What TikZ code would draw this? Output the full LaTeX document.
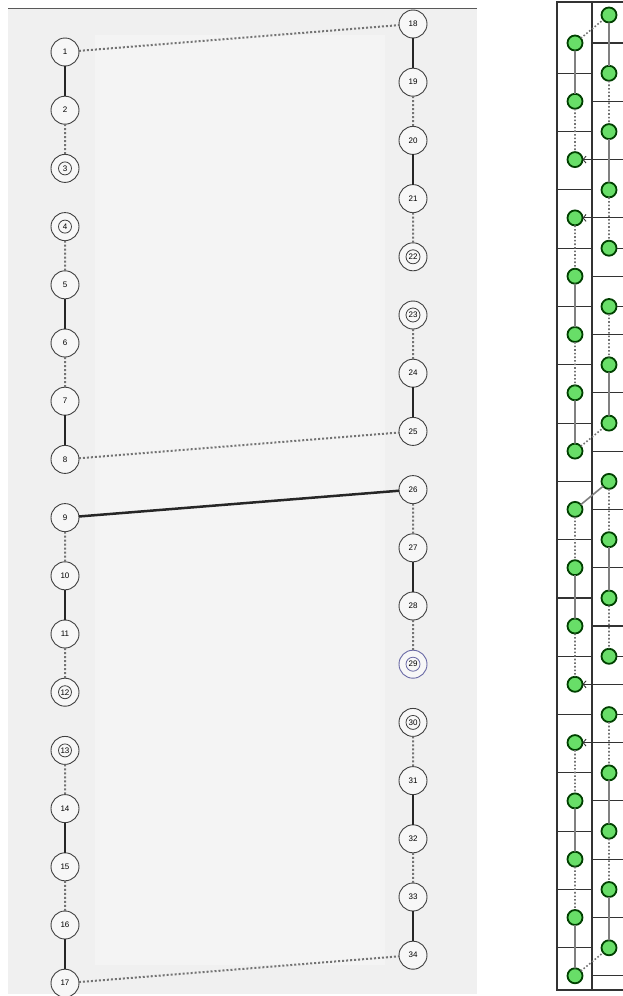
\documentclass[tikz,border=0pt]{standalone}
\usepackage{fontspec}
\setsansfont{Liberation Sans}
\usetikzlibrary{positioning,arrows.meta}

\begin{document}
\begin{tikzpicture}[
	x=1pt, y=-1pt,
	node distance=30.2pt,
	num/.style={circle, draw=black!75, fill=black!3, line width=0.9pt,
		minimum size=28pt, inner sep=0pt, outer sep=0pt, font=\sffamily\fontsize{8}{9}\selectfont},
	ring/.style={draw=black!75, line width=0.8pt},
	link/.style={draw=black!85, line width=2.2pt},
	weak/.style={draw=black!55, line width=2pt, dash pattern=on 2pt off 2pt},
	gnode/.style={circle, draw=black!75!green, fill={rgb,255:red,104;green,222;blue,104},
		line width=1.8pt, minimum size=15pt, inner sep=0pt, outer sep=0pt},
	gline/.style={draw=black!50, line width=1.6pt},
	gdot/.style={draw=black!55, line width=1.6pt, dash pattern=on 1.6pt off 2pt},
	cell/.style={draw=black!80, line width=1.1pt},
	bar/.style={draw=black!80, line width=0.9pt, -{Straight Barb[length=3pt, width=7pt]}}
	]
	\useasboundingbox (0,0) rectangle (622,996);
	% backdrop of the left view
	\fill[black!6] (8,8) rectangle (477,994);
	\fill[black!4.5] (95,35) rectangle (385,965);
	\draw[black!65, line width=1pt] (8,8) -- (477,8);

	% left view
	\node[num] (n1) at (65,52) {1};
	\node[num, below=of n1] (n2) {2};
	\node[num, below=of n2] (n3) {3};
	\node[num, below=of n3] (n4) {4};
	\node[num, below=of n4] (n5) {5};
	\node[num, below=of n5] (n6) {6};
	\node[num, below=of n6] (n7) {7};
	\node[num, below=of n7] (n8) {8};
	\node[num, below=of n8] (n9) {9};
	\node[num, below=of n9] (n10) {10};
	\node[num, below=of n10] (n11) {11};
	\node[num, below=of n11] (n12) {12};
	\node[num, below=of n12] (n13) {13};
	\node[num, below=of n13] (n14) {14};
	\node[num, below=of n14] (n15) {15};
	\node[num, below=of n15] (n16) {16};
	\node[num, below=of n16] (n17) {17};
	\node[num] (n18) at (413,24) {18};
	\node[num, below=of n18] (n19) {19};
	\node[num, below=of n19] (n20) {20};
	\node[num, below=of n20] (n21) {21};
	\node[num, below=of n21] (n22) {22};
	\node[num, below=of n22] (n23) {23};
	\node[num, below=of n23] (n24) {24};
	\node[num, below=of n24] (n25) {25};
	\node[num, below=of n25] (n26) {26};
	\node[num, below=of n26] (n27) {27};
	\node[num, below=of n27] (n28) {28};
	\node[num, below=of n28, draw={rgb,255:red,105;green,105;blue,165}] (n29) {29};
	\node[num, below=of n29] (n30) {30};
	\node[num, below=of n30] (n31) {31};
	\node[num, below=of n31] (n32) {32};
	\node[num, below=of n32] (n33) {33};
	\node[num, below=of n33] (n34) {34};
	% rings on the border nodes
	\draw[ring] (n3.center) circle[radius=6.5pt] (n4.center) circle[radius=6.5pt]
		(n12.center) circle[radius=6.5pt] (n13.center) circle[radius=6.5pt]
		(n22.center) circle[radius=7pt] (n23.center) circle[radius=7pt] (n30.center) circle[radius=7pt];
	\draw[ring, draw={rgb,255:red,105;green,105;blue,165}] (n29.center) circle[radius=7pt];

	\draw[link] (n1) -- (n2) (n5) -- (n6) (n7) -- (n8) (n10) -- (n11) (n14) -- (n15) (n16) -- (n17)
		(n18) -- (n19) (n20) -- (n21) (n24) -- (n25) (n27) -- (n28) (n31) -- (n32) (n33) -- (n34);
	\draw[link, line width=2.5pt] (n9) -- (n26);
	\draw[weak] (n2) -- (n3) (n4) -- (n5) (n6) -- (n7) (n9) -- (n10) (n11) -- (n12) (n13) -- (n14) (n15) -- (n16)
		(n19) -- (n20) (n21) -- (n22) (n23) -- (n24) (n26) -- (n27) (n28) -- (n29) (n30) -- (n31) (n32) -- (n33)
		(n1) -- (n18) (n8) -- (n25) (n17) -- (n34);

	% right view: cell grid
	\coordinate (lim) at (557,0);
	\coordinate (div) at (592,0);
	\coordinate (rim) at (630,0);
	\draw[cell] (557,2) rectangle (630,990);
	\draw[cell] (592,2) -- (592,990);

	\begin{scope}[node distance=43.3pt]
		\node[gnode] (g1) at (575,43) {};
		\node[gnode, below=of g1] (g2) {};
		\node[gnode, below=of g2] (g3) {};
		\node[gnode, below=of g3] (g4) {};
		\node[gnode, below=of g4] (g5) {};
		\node[gnode, below=of g5] (g6) {};
		\node[gnode, below=of g6] (g7) {};
		\node[gnode, below=of g7] (g8) {};
		\node[gnode, below=of g8] (g9) {};
		\node[gnode, below=of g9] (g10) {};
		\node[gnode, below=of g10] (g11) {};
		\node[gnode, below=of g11] (g12) {};
		\node[gnode, below=of g12] (g13) {};
		\node[gnode, below=of g13] (g14) {};
		\node[gnode, below=of g14] (g15) {};
		\node[gnode, below=of g15] (g16) {};
		\node[gnode, below=of g16] (g17) {};
		\node[gnode] (g18) at (609,15) {};
		\node[gnode, below=of g18] (g19) {};
		\node[gnode, below=of g19] (g20) {};
		\node[gnode, below=of g20] (g21) {};
		\node[gnode, below=of g21] (g22) {};
		\node[gnode, below=of g22] (g23) {};
		\node[gnode, below=of g23] (g24) {};
		\node[gnode, below=of g24] (g25) {};
		\node[gnode, below=of g25] (g26) {};
		\node[gnode, below=of g26] (g27) {};
		\node[gnode, below=of g27] (g28) {};
		\node[gnode, below=of g28] (g29) {};
		\node[gnode, below=of g29] (g30) {};
		\node[gnode, below=of g30] (g31) {};
		\node[gnode, below=of g31] (g32) {};
		\node[gnode, below=of g32] (g33) {};
		\node[gnode, below=of g33] (g34) {};
	\end{scope}

	\draw[cell] (div |- g1) -- (rim |- g1) (div |- g2) -- (rim |- g2) (div |- g3) -- (rim |- g3)
		(div |- g4) -- (rim |- g4) (div |- g5) -- (rim |- g5) (div |- g6) -- (rim |- g6)
		(div |- g7) -- (rim |- g7) (div |- g8) -- (rim |- g8) (div |- g9) -- (rim |- g9)
		(div |- g10) -- (rim |- g10) (div |- g11) -- (rim |- g11) (div |- g12) -- (rim |- g12)
		(div |- g13) -- (rim |- g13) (div |- g14) -- (rim |- g14) (div |- g15) -- (rim |- g15)
		(div |- g16) -- (rim |- g16) (div |- g17) -- (rim |- g17);
	\draw[cell] (lim |- g19) -- (div |- g19) (lim |- g20) -- (div |- g20) (lim |- g21) -- (div |- g21)
		(lim |- g22) -- (div |- g22) (lim |- g23) -- (div |- g23) (lim |- g24) -- (div |- g24)
		(lim |- g25) -- (div |- g25) (lim |- g26) -- (div |- g26) (lim |- g27) -- (div |- g27)
		(lim |- g28) -- (div |- g28) (lim |- g29) -- (div |- g29) (lim |- g30) -- (div |- g30)
		(lim |- g31) -- (div |- g31) (lim |- g32) -- (div |- g32) (lim |- g33) -- (div |- g33)
		(lim |- g34) -- (div |- g34);
	% border nodes reach across the cells
	\draw[bar] (div |- g3) -- (g3);
	\draw[bar] (div |- g4) -- (g4);
	\draw[bar] (div |- g12) -- (g12);
	\draw[bar] (div |- g13) -- (g13);
	\draw[cell] (g22) -- (rim |- g22) (g23) -- (rim |- g23) (g29) -- (rim |- g29) (g30) -- (rim |- g30);

	\draw[gline] (g1) -- (g2) (g5) -- (g6) (g7) -- (g8) (g10) -- (g11) (g14) -- (g15) (g16) -- (g17)
		(g18) -- (g19) (g20) -- (g21) (g24) -- (g25) (g27) -- (g28) (g31) -- (g32) (g33) -- (g34)
		(g9) -- (g26);
	\draw[gdot] (g2) -- (g3) (g4) -- (g5) (g6) -- (g7) (g9) -- (g10) (g11) -- (g12) (g13) -- (g14) (g15) -- (g16)
		(g19) -- (g20) (g21) -- (g22) (g23) -- (g24) (g26) -- (g27) (g28) -- (g29) (g30) -- (g31) (g32) -- (g33)
		(g1) -- (g18) (g8) -- (g25) (g17) -- (g34);
\end{tikzpicture}
\end{document}
